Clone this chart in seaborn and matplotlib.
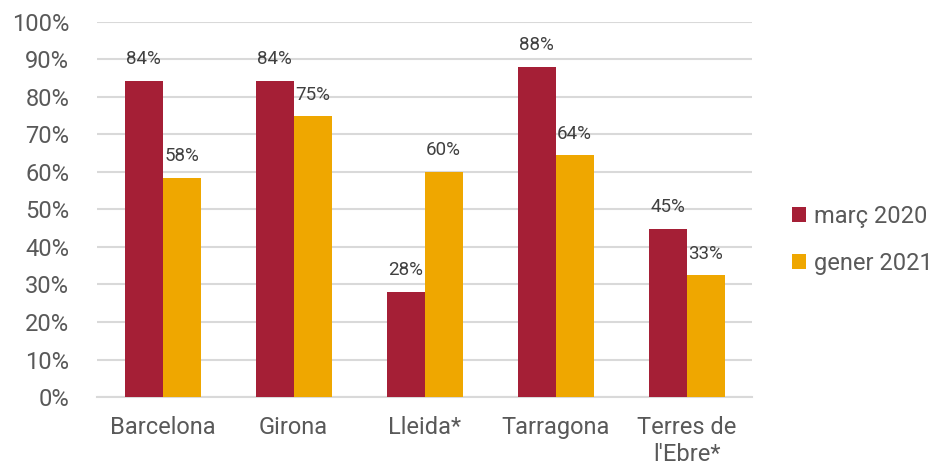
import matplotlib
matplotlib.use("Agg")
import matplotlib.pyplot as plt
import seaborn as sns
import pandas as pd
from matplotlib.patches import Patch

categories = ["Barcelona", "Girona", "Lleida*", "Tarragona", "Terres de\nl'Ebre*"]
series_names = ["març 2020", "gener 2021"]
marc_2020 = [0.843, 0.843, 0.28, 0.88, 0.448]
gener_2021 = [0.584, 0.749, 0.60, 0.645, 0.325]
marc_labels = ["84%", "84%", "28%", "88%", "45%"]
gener_labels = ["58%", "75%", "60%", "64%", "33%"]
yticks = [0, 0.1, 0.2, 0.3, 0.4, 0.5, 0.6, 0.7, 0.8, 0.9, 1.0]
ytick_labels = ["0%", "10%", "20%", "30%", "40%", "50%", "60%", "70%", "80%", "90%", "100%"]
colors = ["#A51F36", "#EFA700"]

sns.set_style("white")
plt.rcParams['font.family'] = ['Roboto', 'DejaVu Sans']
text_color = "#595959"

df = pd.DataFrame({
    "cat": categories * 2,
    "serie": [series_names[0]] * 5 + [series_names[1]] * 5,
    "val": marc_2020 + gener_2021,
})

fig = plt.figure(figsize=(9.4, 4.66), dpi=100)
ax = fig.add_axes([0.1032, 0.148, 0.697, 0.805])
sns.barplot(data=df, x="cat", y="val", hue="serie", palette=colors, width=0.58,
            gap=0, saturation=1, ax=ax, legend=False, errorbar=None, zorder=3,
            linewidth=0, edgecolor="none")

ax.set_ylim(0, 1.0)
ax.set_xlim(-0.5, 4.5)
ax.set_yticks(yticks)
ax.set_yticklabels(ytick_labels)
ax.yaxis.grid(True, color="#D9D9D9", linewidth=1.5, zorder=0)
ax.set_axisbelow(True)
for s in ["top", "right", "left"]:
    ax.spines[s].set_visible(False)
ax.spines["bottom"].set_color("#D9D9D9")
ax.spines["bottom"].set_linewidth(1.5)
ax.tick_params(axis="both", length=0, labelsize=17, labelcolor=text_color)
ax.tick_params(axis="y", pad=20)
ax.tick_params(axis="x", pad=14)
ax.set_xlabel("")
ax.set_ylabel("")

for container, labels in zip(ax.containers, [marc_labels, gener_labels]):
    ax.bar_label(container, labels=labels, padding=9, fontsize=13.5, color="#404040")

handles = [Patch(facecolor=c, edgecolor="none") for c in colors]
fig.legend(handles, series_names, loc="center left", bbox_to_anchor=(0.82, 0.485),
           frameon=False, fontsize=17, labelcolor=text_color,
           handlelength=0.6, handleheight=0.6, handletextpad=0.35, labelspacing=1.0)

fig.savefig("out.png", dpi=100)
